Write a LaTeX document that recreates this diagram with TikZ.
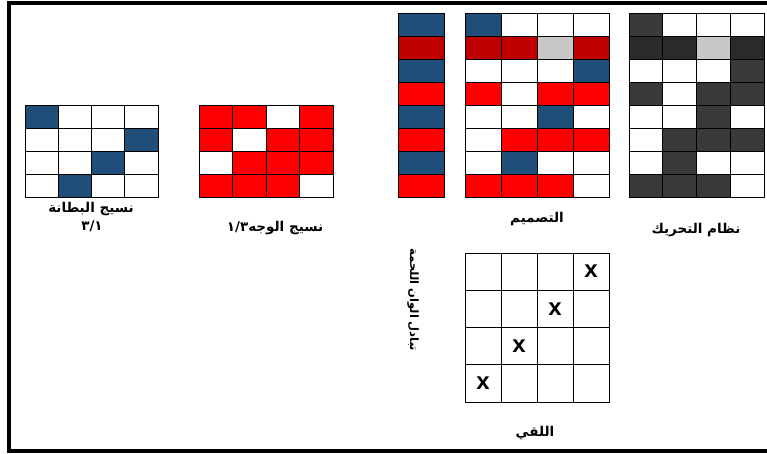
\documentclass[tikz,border=0pt]{standalone}
\usepackage{fontspec}
\usepackage{tikz}
\usetikzlibrary{positioning}
\setsansfont{Liberation Sans}
\newfontfamily\arabicfont[Script=Arabic]{DejaVu Sans}
\TeXXeTstate=1
\definecolor{cellb}{RGB}{31,78,121}
\definecolor{cellr}{RGB}{255,0,0}
\definecolor{celld}{RGB}{192,0,0}
\definecolor{cellg}{RGB}{200,200,200}
\definecolor{cellw}{RGB}{255,255,255}
\definecolor{cellk}{RGB}{58,58,58}
\definecolor{celln}{RGB}{42,42,42}
\tikzset{
  cellbox/.style={draw=black, line width=0.7pt},
  weavelabel/.style={font=\fontsize{13.5}{15}\arabicfont\bfseries, inner sep=1pt},
  xmark/.style={font=\fontsize{24}{24}\sffamily\bfseries, inner sep=0pt},
  frameline/.style={draw=black, line width=4pt}
}

\begin{document}
\begin{tikzpicture}[x=1pt, y=-1pt]
  \useasboundingbox (0,0) rectangle (767,454);
  \draw[frameline] (9,3) rectangle (800,451);

  % back weave 3/1
  \foreach \row [count=\r from 0] in {{b,w,w,w},{w,w,w,b},{w,w,b,w},{w,b,w,w}}
    \foreach \c [count=\k from 0] in \row
      \draw[cellbox, fill=cell\c] ({25+\k*33.25},{105+\r*23}) rectangle ++(33.25,23);
  \node[weavelabel] (backname) at (91,209) {\beginR نسيج البطانة\endR};
  \node[weavelabel] (backratio) at (92,226) {\beginL ٣/١\endL};

  % face weave 1/3
  \foreach \row [count=\r from 0] in {{r,r,w,r},{r,w,r,r},{w,r,r,r},{r,r,r,w}}
    \foreach \c [count=\k from 0] in \row
      \draw[cellbox, fill=cell\c] ({199+\k*33.5},{105+\r*23}) rectangle ++(33.5,23);
  \node[weavelabel] (facename) at (275,228) {\beginR نسيج الوجه\beginL ١/٣\endL\endR};

  % weft colours
  \foreach \c [count=\r from 0] in {b,d,b,r,b,r,b,r}
    \draw[cellbox, fill=cell\c] (398,{13+\r*23}) rectangle ++(46,23);
  \node[weavelabel, font=\fontsize{11.5}{13}\arabicfont\bfseries, rotate=-90] (weftname) at (413,300) {\beginR تبادل الوان اللحمة\endR};

  % design
  \foreach \row [count=\r from 0] in {{b,w,w,w},{d,d,g,d},{w,w,w,b},{r,w,r,r},{w,w,b,w},{w,r,r,r},{w,b,w,w},{r,r,r,w}}
    \foreach \c [count=\k from 0] in \row
      \draw[cellbox, fill=cell\c] ({465+\k*36},{13+\r*23}) rectangle ++(36,23);
  \node[weavelabel] (designname) at (537,219) {\beginR التصميم\endR};

  % lifting plan
  \foreach \row [count=\r from 0] in {{k,w,w,w},{n,n,g,n},{w,w,w,k},{k,w,k,k},{w,w,k,w},{w,k,k,k},{w,k,w,w},{k,k,k,w}}
    \foreach \c [count=\k from 0] in \row
      \draw[cellbox, fill=cell\c] ({629+\k*33.75},{13+\r*23}) rectangle ++(33.75,23);
  \node[weavelabel] (liftname) at (696,230) {\beginR نظام التحريك\endR};

  % tie-up
  \foreach \r in {0,...,3}
    \foreach \k in {0,...,3}
      \draw[cellbox, fill=cellw] ({465+\k*36},{253+\r*37.25}) rectangle ++(36,37.25);
  \foreach \k [count=\r from 0] in {3,2,1,0}
    \node[xmark] (tie\r) at ({483+\k*36},{271.6+\r*37.25}) {x};
  \node[weavelabel] (tiename) at (535,433) {\beginR اللقي\endR};
\end{tikzpicture}
\end{document}
